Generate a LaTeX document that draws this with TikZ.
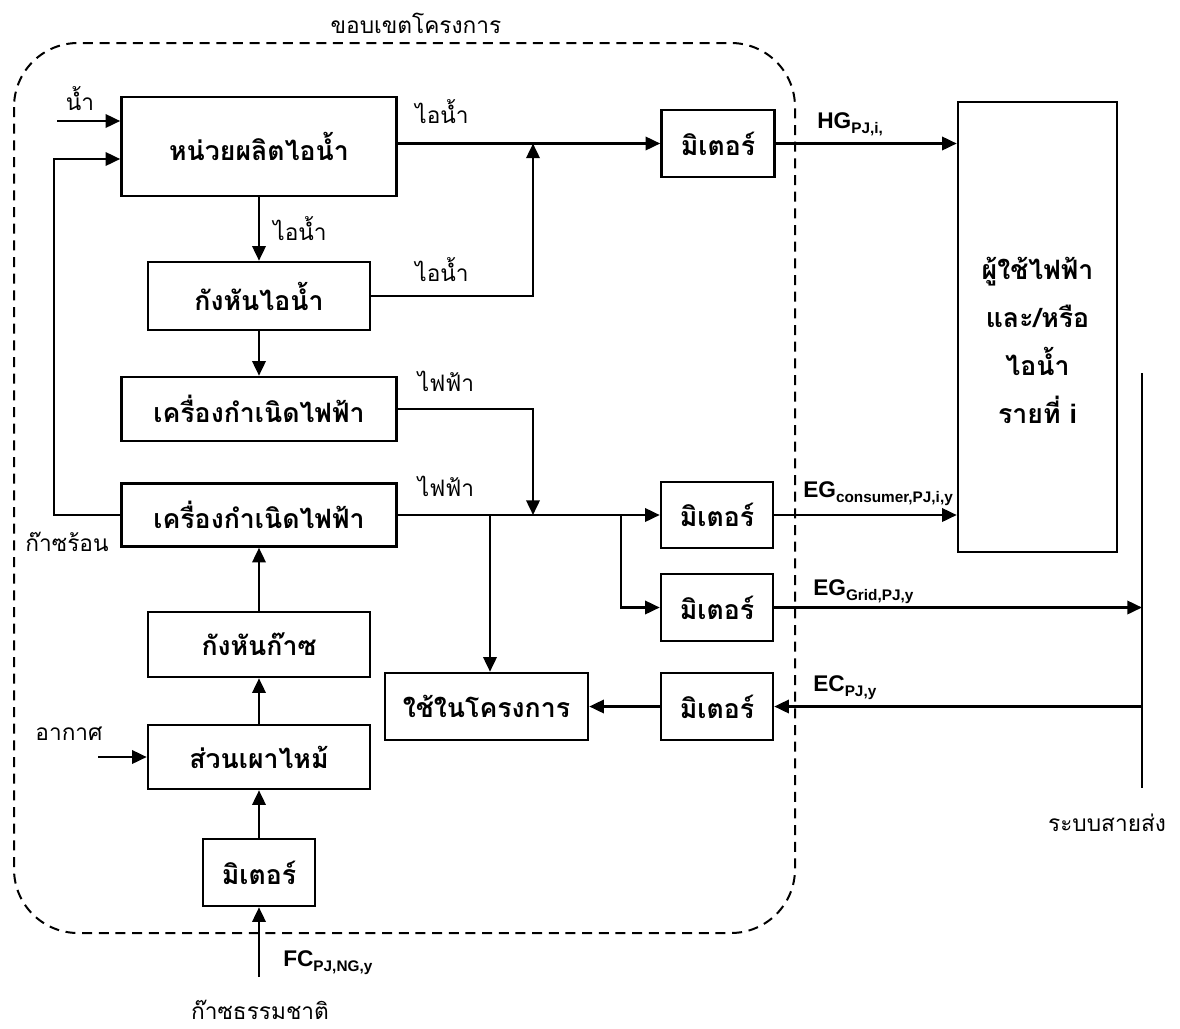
\documentclass[tikz,border=0pt]{standalone}
\usepackage{fontspec}
\usetikzlibrary{arrows.meta}
\setmainfont[Script=Thai]{Loma}
\setsansfont{Liberation Sans}
\newcommand{\gross}{\fontsize{20}{24}\selectfont}
\newcommand{\klein}{\fontsize{17}{20}\selectfont}
\newcommand{\sym}[2]{{\sffamily\bfseries\fontsize{17}{20}\selectfont #1\raisebox{-0.45ex}{\fontsize{11.5}{13}\selectfont #2}}}
\tikzset{kasten/.style 2 args={draw,line width=1.9pt,inner sep=0,font=\gross\bfseries,
    minimum width=0.75*#1,minimum height=0.75*#2},
  pfeil/.style={line width=1.9pt,-{Triangle[length=11pt,width=10pt]}},
  leitung/.style={line width=1.9pt},
  grenze/.style={line width=1.5pt,dash pattern=on 7.5pt off 5pt},
  marke/.style={inner sep=0,font=\klein}}

\begin{document}
\begin{tikzpicture}[x=0.75pt,y=-0.75pt]
\useasboundingbox (0,0) rectangle (1180,1028);
% Systemgrenze gestrichelt; Dampf- und Gasturbinenstrang links, Zaehler rechts davon,
% Verbraucher und Netz ausserhalb der Grenze
\draw[grenze,rounded corners=48pt] (14,43) rectangle (795,933);
\node[marke] (titel) at (416,23) {ขอบเขตโครงการ};
\node[kasten={275}{99}] (dampf) at (259,146.5) {หน่วยผลิตไอน้ำ};
\node[kasten={222}{68}] (dturb) at (259,296) {กังหันไอน้ำ};
\node[kasten={275}{64}] (gen1) at (259,409) {เครื่องกำเนิดไฟฟ้า};
\node[kasten={275}{63}] (gen2) at (259,515) {เครื่องกำเนิดไฟฟ้า};
\node[kasten={222}{65}] (gturb) at (259,644.5) {กังหันก๊าซ};
\node[kasten={222}{64}] (brenn) at (259,757) {ส่วนเผาไหม้};
\node[kasten={112}{67}] (zgas) at (259,872.5) {มิเตอร์};
\node[kasten={113}{67}] (z1) at (718,143.5) {มิเตอร์};
\node[kasten={112}{66}] (z2) at (717,515) {มิเตอร์};
\node[kasten={112}{67}] (z3) at (717,607.5) {มิเตอร์};
\node[kasten={112}{67}] (z4) at (717,706.5) {มิเตอร์};
\node[kasten={203}{67}] (eigen) at (486.5,706.5) {ใช้ในโครงการ};
\node[kasten={159}{450}] (kunde) at (1037.5,327) {};
\node[inner sep=0,align=center,font={\fontsize{20}{36}\selectfont\bfseries}] (kundetext)
  at (1037.5,340) {ผู้ใช้ไฟฟ้า\\และ/หรือ\\ไอน้ำ\\รายที่ {\sffamily i}};
\coordinate (wasser) at (57,121);
\coordinate (heiss) at (54,159);
\coordinate (luft) at (98,757);
\coordinate (erdgas) at (259,977);
\coordinate (j1) at (533,143.5);
\coordinate (j2) at (533,515);
\coordinate (ab1) at (621,515);
\coordinate (ab2) at (490,515);
\coordinate (netzoben) at (1142,373);
\coordinate (netzunten) at (1142,788);
\draw[pfeil] (wasser) -- (wasser -| dampf.west);
\draw[pfeil] (gen2.west) -| (heiss) -- (heiss -| dampf.west);
\draw[pfeil] (dampf) -- (dturb);
\draw[pfeil] (dturb) -- (gen1);
\draw[pfeil] (gturb) -- (gen2);
\draw[pfeil] (brenn) -- (gturb);
\draw[pfeil] (zgas) -- (brenn);
\draw[pfeil] (erdgas) -- (zgas);
\draw[pfeil] (luft) -- (brenn.west);
\draw[pfeil] (dampf.east |- z1) -- (z1);
\draw[pfeil] (dturb.east) -| (j1);
\draw[pfeil] (gen1.east) -| (j2);
\draw[pfeil] (gen2) -- (z2);
\draw[pfeil] (ab1) |- (z3);
\draw[pfeil] (ab2) -- (ab2 |- eigen.north);
\draw[pfeil] (z4) -- (eigen);
\draw[pfeil] (z1) -- (z1 -| kunde.west);
\draw[pfeil] (z2) -- (z2 -| kunde.west);
\draw[leitung] (netzoben) -- (netzunten);
\draw[pfeil] (z3) -- (z3 -| netzoben);
\draw[pfeil] (z4 -| netzoben) -- (z4);
\node[marke] (l1) at (80,99) {น้ำ};
\node[marke] (l2) at (67,542) {ก๊าซร้อน};
\node[marke] (l3) at (300,229) {ไอน้ำ};
\node[marke] (l4) at (442,112) {ไอน้ำ};
\node[marke] (l5) at (442,270) {ไอน้ำ};
\node[marke] (l6) at (446,381) {ไฟฟ้า};
\node[marke] (l7) at (446,486) {ไฟฟ้า};
\node[marke] (l8) at (69,734) {อากาศ};
\node[marke] (l9) at (260,1010) {ก๊าซธรรมชาติ};
\node[marke] (l10) at (1107,823) {ระบบสายส่ง};
\node[inner sep=0,anchor=base west] (s1) at (817,128) {\sym{HG}{PJ,i,}};
\node[inner sep=0,anchor=base west] (s2) at (803,497) {\sym{EG}{consumer,PJ,i,y}};
\node[inner sep=0,anchor=base west] (s3) at (813,595) {\sym{EG}{Grid,PJ,y}};
\node[inner sep=0,anchor=base west] (s4) at (813,691) {\sym{EC}{PJ,y}};
\node[inner sep=0,anchor=base west] (s5) at (283,966) {\sym{FC}{PJ,NG,y}};
\end{tikzpicture}
\end{document}
